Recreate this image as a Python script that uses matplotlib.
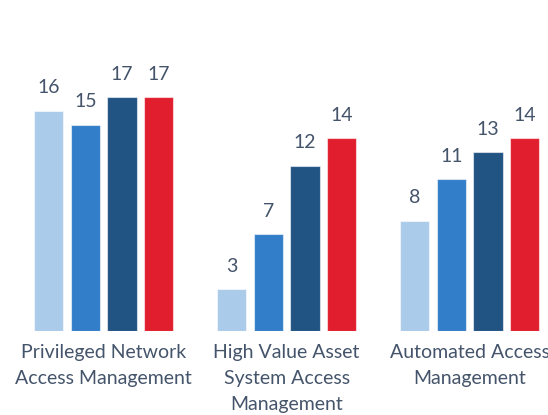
import matplotlib
matplotlib.use("Agg")
import matplotlib.pyplot as plt
import numpy as np

categories = ["Privileged Network\nAccess Management",
              "High Value Asset\nSystem Access\nManagement",
              "Automated Access\nManagement"]
series_a = [16, 3, 8]
series_b = [15, 7, 11]
series_c = [17, 12, 13]
series_d = [17, 14, 14]
series = [series_a, series_b, series_c, series_d]
colors = ["#ABCBEA", "#327EC8", "#215383", "#E01E2D"]

TEXT = "#44546A"
plt.rcParams['font.family'] = ['Lato', 'DejaVu Sans']

fig = plt.figure(figsize=(5.48, 4.15), dpi=100)
ax = fig.add_axes([0, 1 - 330.5 / 415, 1, 330.5 / 415])

x = np.arange(len(categories))
step = 0.2
width = 0.16
for i, (vals, col) in enumerate(zip(series, colors)):
    pos = x + (i - 1.5) * step
    bars = ax.bar(pos, vals, width=width, color=col,
                  edgecolor=(1, 1, 1, 0.55), linewidth=0.8)
    for b, v in zip(bars, vals):
        ax.annotate(str(v), (b.get_x() + b.get_width() / 2, v),
                    xytext=(0, 12.5), textcoords="offset points",
                    ha="center", va="baseline", fontsize=14,
                    color=TEXT)

ax.set_xlim(-0.566, 2.428)
ax.set_ylim(0, 24.07)

ax.set_xticks(x)
ax.set_xticklabels(categories, fontsize=14, color=TEXT, linespacing=1.62)
ax.tick_params(axis="x", length=0, pad=10)
ax.set_yticks([])
for s in ax.spines.values():
    s.set_visible(False)

fig.savefig("out.png", dpi=100)
